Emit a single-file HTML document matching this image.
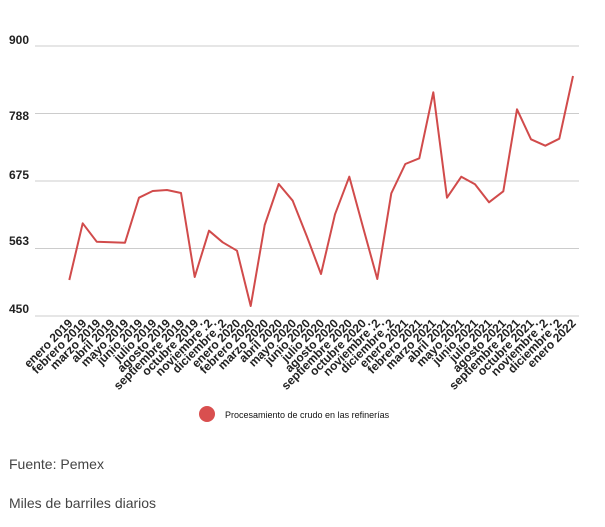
<!DOCTYPE html>
<html><head><meta charset="utf-8"><style>
body{margin:0;background:#fff;width:605px;height:522px;overflow:hidden;font-family:"Liberation Sans",sans-serif}
</style></head><body>
<svg width="605" height="522" xmlns="http://www.w3.org/2000/svg" font-family="Liberation Sans, sans-serif">
<g stroke="#ccc" stroke-width="1">
<line x1="35" x2="579" y1="46" y2="46"/><line x1="35" x2="579" y1="113.5" y2="113.5"/>
<line x1="35" x2="579" y1="181" y2="181"/><line x1="35" x2="579" y1="248.5" y2="248.5"/>
<line x1="35" x2="579" y1="316" y2="316"/></g>
<g font-size="12" fill="#222" font-weight="bold">
<text x="9" y="44">900</text><text x="9" y="120">788</text><text x="9" y="179">675</text><text x="9" y="245">563</text><text x="9" y="313">450</text></g>
<polyline fill="none" stroke="#d14b4b" stroke-width="2" stroke-linejoin="round" points="69.3,280 82.7,223.3 96.7,241.7 111,242.3 125,242.7 139,197.7 152.7,191 167,190 181,193 194.7,277 209,230.7 222.7,242.3 237,250.7 250.7,306 264.7,225 278.7,184 292.7,200.7 307,236.7 321,274 335,214.3 349.3,176.7 363.3,228.3 377.3,279 391.3,193.3 405.3,164 419.3,158.3 433.3,92.3 447,197.7 461.3,176.7 475,184.3 489,202.3 503.3,191.3 517,109.3 531,139.3 545.3,145.7 559.3,138.7 573,76"/>
<g font-size="12" font-weight="bold" fill="#222" text-anchor="end" id="xl"></g>
<circle cx="207" cy="414" r="8" fill="#d94f4f"/>
<text x="225" y="418" font-size="9" fill="#111">Procesamiento de crudo en las refinerías</text>
<text x="9" y="469" font-size="14" fill="#444">Fuente: Pemex</text>
<text x="9" y="508" font-size="14" fill="#444">Miles de barriles diarios</text>
</svg>
<script>
var m=["enero","febrero","marzo","abril","mayo","junio","julio","agosto","septiembre","octubre","noviembre","diciembre"];
var g=document.getElementById("xl"),s="";
for(var i=0;i<37;i++){var y=2019+Math.floor(i/12),mm=m[i%12];var t=(mm=="noviembre"||mm=="diciembre")?mm+" ⁚2":mm+" "+y;
var x=69.3+i*13.98+4;s+='<text transform="translate('+x+',324) rotate(-45)">'+t+'</text>';}
g.innerHTML=s;
</script>
</body></html>
